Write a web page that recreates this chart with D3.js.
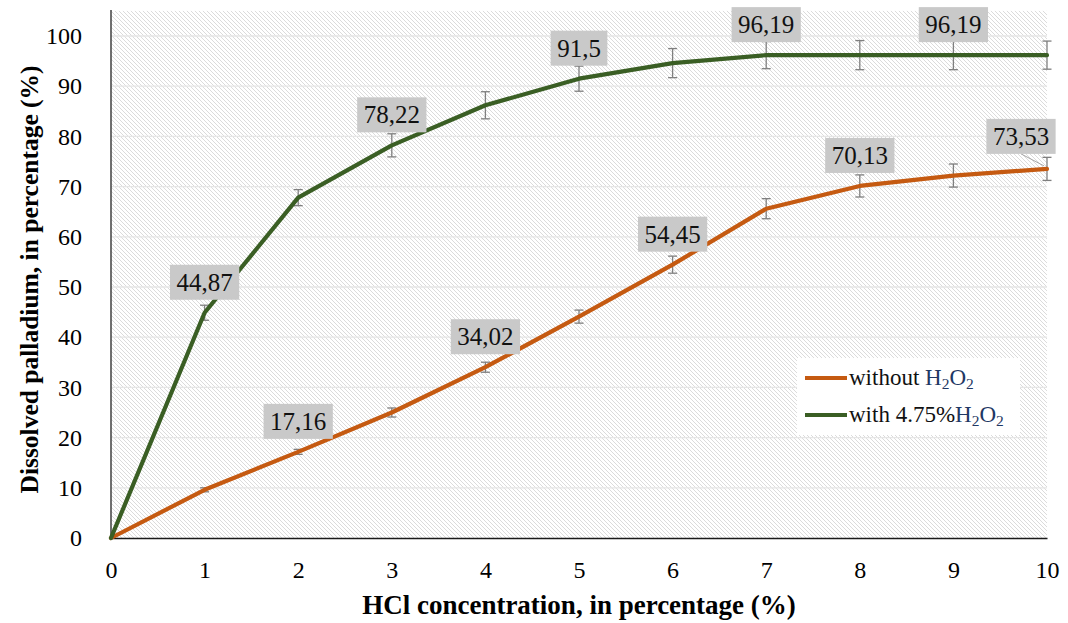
<!DOCTYPE html>
<html>
<head>
<meta charset="utf-8">
<script src="https://cdn.jsdelivr.net/npm/d3@7"></script>
<style>
  html, body { margin: 0; padding: 0; background: #ffffff; }
  svg { display: block; }
  svg text { font-family: "Liberation Serif", "Tinos", "Times New Roman", "DejaVu Serif", "Noto Serif", serif; }
</style>
</head>
<body>
<svg id="chart" width="1068" height="623"></svg>
<script>
// HCl concentration (%)
const hclConcentration = [0, 1, 2, 3, 4, 5, 6, 7, 8, 9, 10];

// Dissolved palladium (%) without H2O2, with error half-widths
const withoutH2O2 = [0, 9.6, 17.16, 25.0, 34.02, 44.1, 54.45, 65.6, 70.13, 72.2, 73.53];
const withoutH2O2Err = [0, 0.4, 0.5, 0.9, 1.0, 1.3, 1.7, 2.0, 2.2, 2.3, 2.3];

// Dissolved palladium (%) with 4.75% H2O2, with error half-widths
const withH2O2 = [0, 44.87, 67.8, 78.22, 86.2, 91.5, 94.6, 96.19, 96.19, 96.19, 96.19];
const withH2O2Err = [0, 1.5, 1.6, 2.3, 2.7, 2.5, 2.9, 2.7, 2.9, 2.9, 2.8];

// Points that carry a value label
const withLabelIdx = [1, 3, 5, 7, 9];
const withoutLabelIdx = [2, 4, 6, 8, 10];

const xTicks = [0, 1, 2, 3, 4, 5, 6, 7, 8, 9, 10];
const yTicks = [0, 10, 20, 30, 40, 50, 60, 70, 80, 90, 100];

const FONT = '"Liberation Serif", "Tinos", "Times New Roman", "DejaVu Serif", serif';

const svg = d3.select("#chart");

const plot = { left: 111, right: 1047, top: 10.9, bottom: 538 };

const x = d3.scaleLinear().domain([0, 10]).range([plot.left, plot.right]);
const y = d3.scaleLinear().domain([0, 105]).range([plot.bottom, plot.top]);

// diagonal hatch fill of the plot area
const defs = svg.append("defs");
const pat = defs.append("pattern")
  .attr("id", "hatch")
  .attr("patternUnits", "userSpaceOnUse")
  .attr("width", 4).attr("height", 4);
pat.append("rect").attr("width", 4).attr("height", 4).attr("fill", "#ffffff");
pat.append("path")
  .attr("d", "M-1,-1 L5,5 M-1,3 L1,5 M3,-1 L5,1")
  .attr("stroke", "#d9d9d9").attr("stroke-width", 0.95);

svg.append("rect")
  .attr("x", plot.left).attr("y", plot.top)
  .attr("width", plot.right - plot.left).attr("height", plot.bottom - plot.top)
  .attr("fill", "url(#hatch)");

// horizontal gridlines
svg.append("g")
  .selectAll("line")
  .data(yTicks.filter(d => d > 0))
  .join("line")
  .attr("x1", plot.left).attr("x2", plot.right)
  .attr("y1", d => y(d)).attr("y2", d => y(d))
  .attr("stroke", "#e6e6e6").attr("stroke-width", 1.3);

// axes
const yAxis = svg.append("g")
  .attr("transform", `translate(${plot.left},0)`)
  .call(d3.axisLeft(y).tickValues(yTicks).tickSize(0).tickPadding(29))
  .attr("font-family", FONT);
yAxis.select(".domain").attr("stroke", "#404040").attr("stroke-width", 1.5)
  .attr("d", `M0,${plot.bottom}V${plot.top - 1}`);
yAxis.selectAll("text")
  .attr("font-size", 24).attr("fill", "#000");

const xAxis = svg.append("g")
  .attr("transform", `translate(0,${plot.bottom})`)
  .call(d3.axisBottom(x).tickValues(xTicks).tickSize(0).tickPadding(23))
  .attr("font-family", FONT);
xAxis.select(".domain").attr("stroke", "#1a1a1a").attr("stroke-width", 1.5);
xAxis.selectAll("text")
  .attr("font-size", 24).attr("fill", "#000");

// axis titles
svg.append("text")
  .attr("x", (plot.left + plot.right) / 2).attr("y", 614)
  .attr("text-anchor", "middle")
  .attr("font-family", FONT)
  .attr("font-size", 27).attr("font-weight", "bold")
  .text("HCl concentration, in percentage (%)");

svg.append("text")
  .attr("transform", `translate(38,${(plot.top + plot.bottom) / 2 + 5}) rotate(-90)`)
  .attr("text-anchor", "middle")
  .attr("font-family", FONT)
  .attr("font-size", 25.5).attr("font-weight", "bold")
  .text("Dissolved palladium, in percentage (%)");

const series = [
  { name: "without", values: withoutH2O2, err: withoutH2O2Err, color: "#c55a11", labels: withoutLabelIdx },
  { name: "with", values: withH2O2, err: withH2O2Err, color: "#3a5e24", labels: withLabelIdx }
];

// error bars
series.forEach(s => {
  const g = svg.append("g").attr("stroke", "#7f7f7f").attr("stroke-width", 1.3);
  const pts = hclConcentration.map((c, i) => ({ c, v: s.values[i], e: s.err[i] })).filter(p => p.e > 0);
  g.selectAll(".v").data(pts).join("line")
    .attr("x1", p => x(p.c)).attr("x2", p => x(p.c))
    .attr("y1", p => y(p.v - p.e)).attr("y2", p => y(p.v + p.e));
  g.selectAll(".t").data(pts).join("line")
    .attr("x1", p => x(p.c) - 4.5).attr("x2", p => x(p.c) + 4.5)
    .attr("y1", p => y(p.v + p.e)).attr("y2", p => y(p.v + p.e));
  g.selectAll(".b").data(pts).join("line")
    .attr("x1", p => x(p.c) - 4.5).attr("x2", p => x(p.c) + 4.5)
    .attr("y1", p => y(p.v - p.e)).attr("y2", p => y(p.v - p.e));
});

// data lines
const line = d3.line()
  .x((d, i) => x(hclConcentration[i]))
  .y(d => y(d))
  .curve(d3.curveLinear);

series.forEach(s => {
  svg.append("path")
    .datum(s.values)
    .attr("fill", "none")
    .attr("stroke", s.color)
    .attr("stroke-width", 4.2)
    .attr("stroke-linejoin", "round")
    .attr("stroke-linecap", "round")
    .attr("d", line);
});

// value labels
const fmt = v => String(v).replace(".", ",");
const labelG = svg.append("g");
series.forEach(s => {
  s.labels.forEach(i => {
    const px = x(hclConcentration[i]);
    const py = y(s.values[i]);
    const atEdge = i === hclConcentration.length - 1;
    const cx = atEdge ? px - 26 : px;
    const bottom = atEdge ? py - 15 : py - 13;
    const g = labelG.append("g");
    const t = g.append("text")
      .attr("x", cx).attr("y", bottom - 9)
      .attr("text-anchor", "middle")
      .attr("font-family", FONT)
      .attr("font-size", 25).attr("fill", "#111")
      .text(fmt(s.values[i]));
    const w = t.node().getComputedTextLength() + 13;
    if (atEdge) {
      g.insert("line", "text")
        .attr("x1", cx).attr("y1", bottom)
        .attr("x2", px - 3).attr("y2", py - 3)
        .attr("stroke", "#a6a6a6").attr("stroke-width", 1);
    }
    g.insert("rect", "text")
      .attr("x", cx - w / 2).attr("y", bottom - 35)
      .attr("width", w).attr("height", 35)
      .attr("fill", "#c9c9c9");
  });
});

// legend
const legend = svg.append("g");
legend.append("rect")
  .attr("x", 797).attr("y", 358).attr("width", 223).attr("height", 77)
  .attr("fill", "#ffffff");
const legendItems = [
  { color: series[0].color, pre: "without " },
  { color: series[1].color, pre: "with 4.75%" }
];
legendItems.forEach((it, k) => {
  const ly = 378 + k * 37;
  legend.append("line")
    .attr("x1", 805).attr("x2", 847).attr("y1", ly).attr("y2", ly)
    .attr("stroke", it.color).attr("stroke-width", 4);
  const t = legend.append("text")
    .attr("x", 849).attr("y", ly + 7)
    .attr("font-family", FONT)
    .attr("font-size", 23).attr("fill", "#111");
  t.append("tspan").text(it.pre);
  t.append("tspan").attr("fill", "#1f3864").text("H");
  t.append("tspan").attr("fill", "#1f3864").attr("font-size", 15.5).attr("dy", 4).text("2");
  t.append("tspan").attr("fill", "#1f3864").attr("dy", -4).text("O");
  t.append("tspan").attr("fill", "#1f3864").attr("font-size", 15.5).attr("dy", 4).text("2");
});
</script>
</body>
</html>
